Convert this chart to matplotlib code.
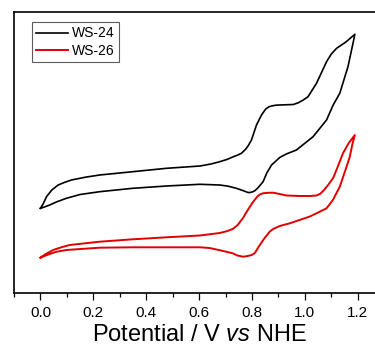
import matplotlib
matplotlib.use("Agg")
import matplotlib.pyplot as plt
from matplotlib.ticker import MultipleLocator

plt.rcParams['font.family'] = ['Liberation Sans', 'DejaVu Sans']
plt.rcParams['mathtext.fontset'] = 'custom'
plt.rcParams['mathtext.rm'] = 'Liberation Sans'
plt.rcParams['mathtext.it'] = 'Liberation Sans:italic'

# WS-24: anodic (forward) branch
ws24_fwd_v = [0.000, 0.010, 0.023, 0.043, 0.067, 0.090, 0.117, 0.170, 0.224, 0.349, 0.477,
              0.603, 0.645, 0.678, 0.705, 0.727, 0.745, 0.760, 0.775, 0.785, 0.798,
              0.817, 0.836, 0.852, 0.864, 0.874, 0.890, 0.905, 0.956,
              0.975, 0.994, 1.012, 1.044, 1.082, 1.100, 1.120, 1.155, 1.189]
ws24_fwd_i = [8.47, 8.90, 9.63, 10.30, 10.80, 11.05, 11.30, 11.58, 11.80, 12.13, 12.47,
              12.70, 12.90, 13.13, 13.35, 13.60, 13.78, 13.97, 14.35, 14.70, 15.30,
              16.80, 17.80, 18.40, 18.62, 18.70, 18.78, 18.80, 18.85,
              19.02, 19.30, 19.63, 20.97, 23.13, 23.90, 24.47, 25.10, 25.87]
# WS-24: cathodic (return) branch
ws24_rev_v = [1.189, 1.182, 1.163, 1.132, 1.107, 1.082, 1.031, 0.968, 0.930, 0.905, 0.874,
              0.856, 0.842, 0.822, 0.812, 0.803, 0.793, 0.785, 0.765, 0.741, 0.710,
              0.678, 0.603, 0.477, 0.349, 0.224, 0.150, 0.098, 0.060, 0.035, 0.015, 0.000]
ws24_rev_i = [25.87, 24.97, 22.63, 19.97, 18.80, 17.30, 15.63, 14.30, 13.90, 13.55, 12.80,
              12.00, 11.13, 10.50, 10.25, 10.12, 10.05, 10.05, 10.25, 10.47, 10.68,
              10.80, 10.87, 10.70, 10.47, 10.13, 9.85, 9.47, 9.10, 8.80, 8.60, 8.47]

# WS-26: anodic (forward) branch
ws26_fwd_v = [0.000, 0.020, 0.048, 0.080, 0.111, 0.224, 0.349, 0.477, 0.603, 0.678, 0.705,
              0.727, 0.746, 0.766, 0.784, 0.804, 0.822, 0.832, 0.842, 0.860, 0.880,
              0.905, 0.930, 0.981, 1.019, 1.044, 1.058, 1.069, 1.088, 1.107, 1.124,
              1.144, 1.166, 1.189]
ws26_fwd_i = [3.53, 3.90, 4.30, 4.58, 4.80, 5.13, 5.37, 5.57, 5.75, 6.00, 6.18,
              6.40, 6.80, 7.50, 8.30, 9.10, 9.70, 9.88, 9.97, 10.02, 10.03,
              9.90, 9.75, 9.70, 9.70, 9.75, 9.92, 10.20, 10.80, 11.50, 12.60,
              13.97, 15.00, 15.80]
# WS-26: cathodic (return) branch
ws26_rev_v = [1.189, 1.179, 1.170, 1.151, 1.132, 1.106, 1.082, 1.044, 1.019, 0.980, 0.943,
              0.905, 0.880, 0.867, 0.848, 0.827, 0.811, 0.800, 0.792, 0.780, 0.766,
              0.745, 0.727, 0.691, 0.640, 0.603, 0.349, 0.224, 0.098, 0.060, 0.035,
              0.015, 0.000]
ws26_rev_i = [15.80, 14.80, 13.63, 12.10, 10.63, 9.30, 8.47, 7.97, 7.65, 7.30, 6.97,
              6.70, 6.40, 6.13, 5.50, 4.70, 4.00, 3.82, 3.75, 3.68, 3.63,
              3.75, 3.97, 4.20, 4.50, 4.57, 4.57, 4.53, 4.30, 4.12, 3.90,
              3.70, 3.53]

labels = ["WS-24", "WS-26"]
xlabel = r"Potential / V $\mathit{vs}$ NHE"

fig = plt.figure(figsize=(3.75, 3.46), dpi=100)
ax = fig.add_axes([14/375, 53/346, 370.2/375, 281/346])

ax.plot(ws24_fwd_v + ws24_rev_v[1:], ws24_fwd_i + ws24_rev_i[1:], color='black',
        lw=1.2, label=labels[0], solid_joinstyle='round')
ax.plot(ws26_fwd_v + ws26_rev_v[1:], ws26_fwd_i + ws26_rev_i[1:], color='#e00000',
        lw=1.4, label=labels[1], solid_joinstyle='round')

ax.set_xlim(-0.1, 1.3)
ax.set_ylim(0, 28.1)
ax.xaxis.set_major_locator(MultipleLocator(0.2))
ax.xaxis.set_minor_locator(MultipleLocator(0.1))
ax.set_yticks([])
ax.tick_params(axis='x', which='major', direction='out', length=5, width=0.9,
               labelsize=11, pad=4.5)
ax.tick_params(axis='x', which='minor', direction='out', length=3, width=0.9)
ax.set_xticks([0.0, 0.2, 0.4, 0.6, 0.8, 1.0, 1.2])
ax.set_xticklabels(["0.0", "0.2", "0.4", "0.6", "0.8", "1.0", "1.2"])
for s in ax.spines.values():
    s.set_linewidth(1.2)

ax.set_xlabel(xlabel, fontsize=17, labelpad=2.5)

leg = ax.legend(loc='upper left', bbox_to_anchor=(32/375, 1 - 22.3/346),
                bbox_transform=fig.transFigure, borderaxespad=0, fontsize=10,
                frameon=True, fancybox=False, handlelength=2.3, handletextpad=0.3,
                labelspacing=0.25, borderpad=0.3)
leg.get_frame().set_edgecolor('#333333')
leg.get_frame().set_linewidth(0.8)

fig.savefig("out.png", dpi=100)
